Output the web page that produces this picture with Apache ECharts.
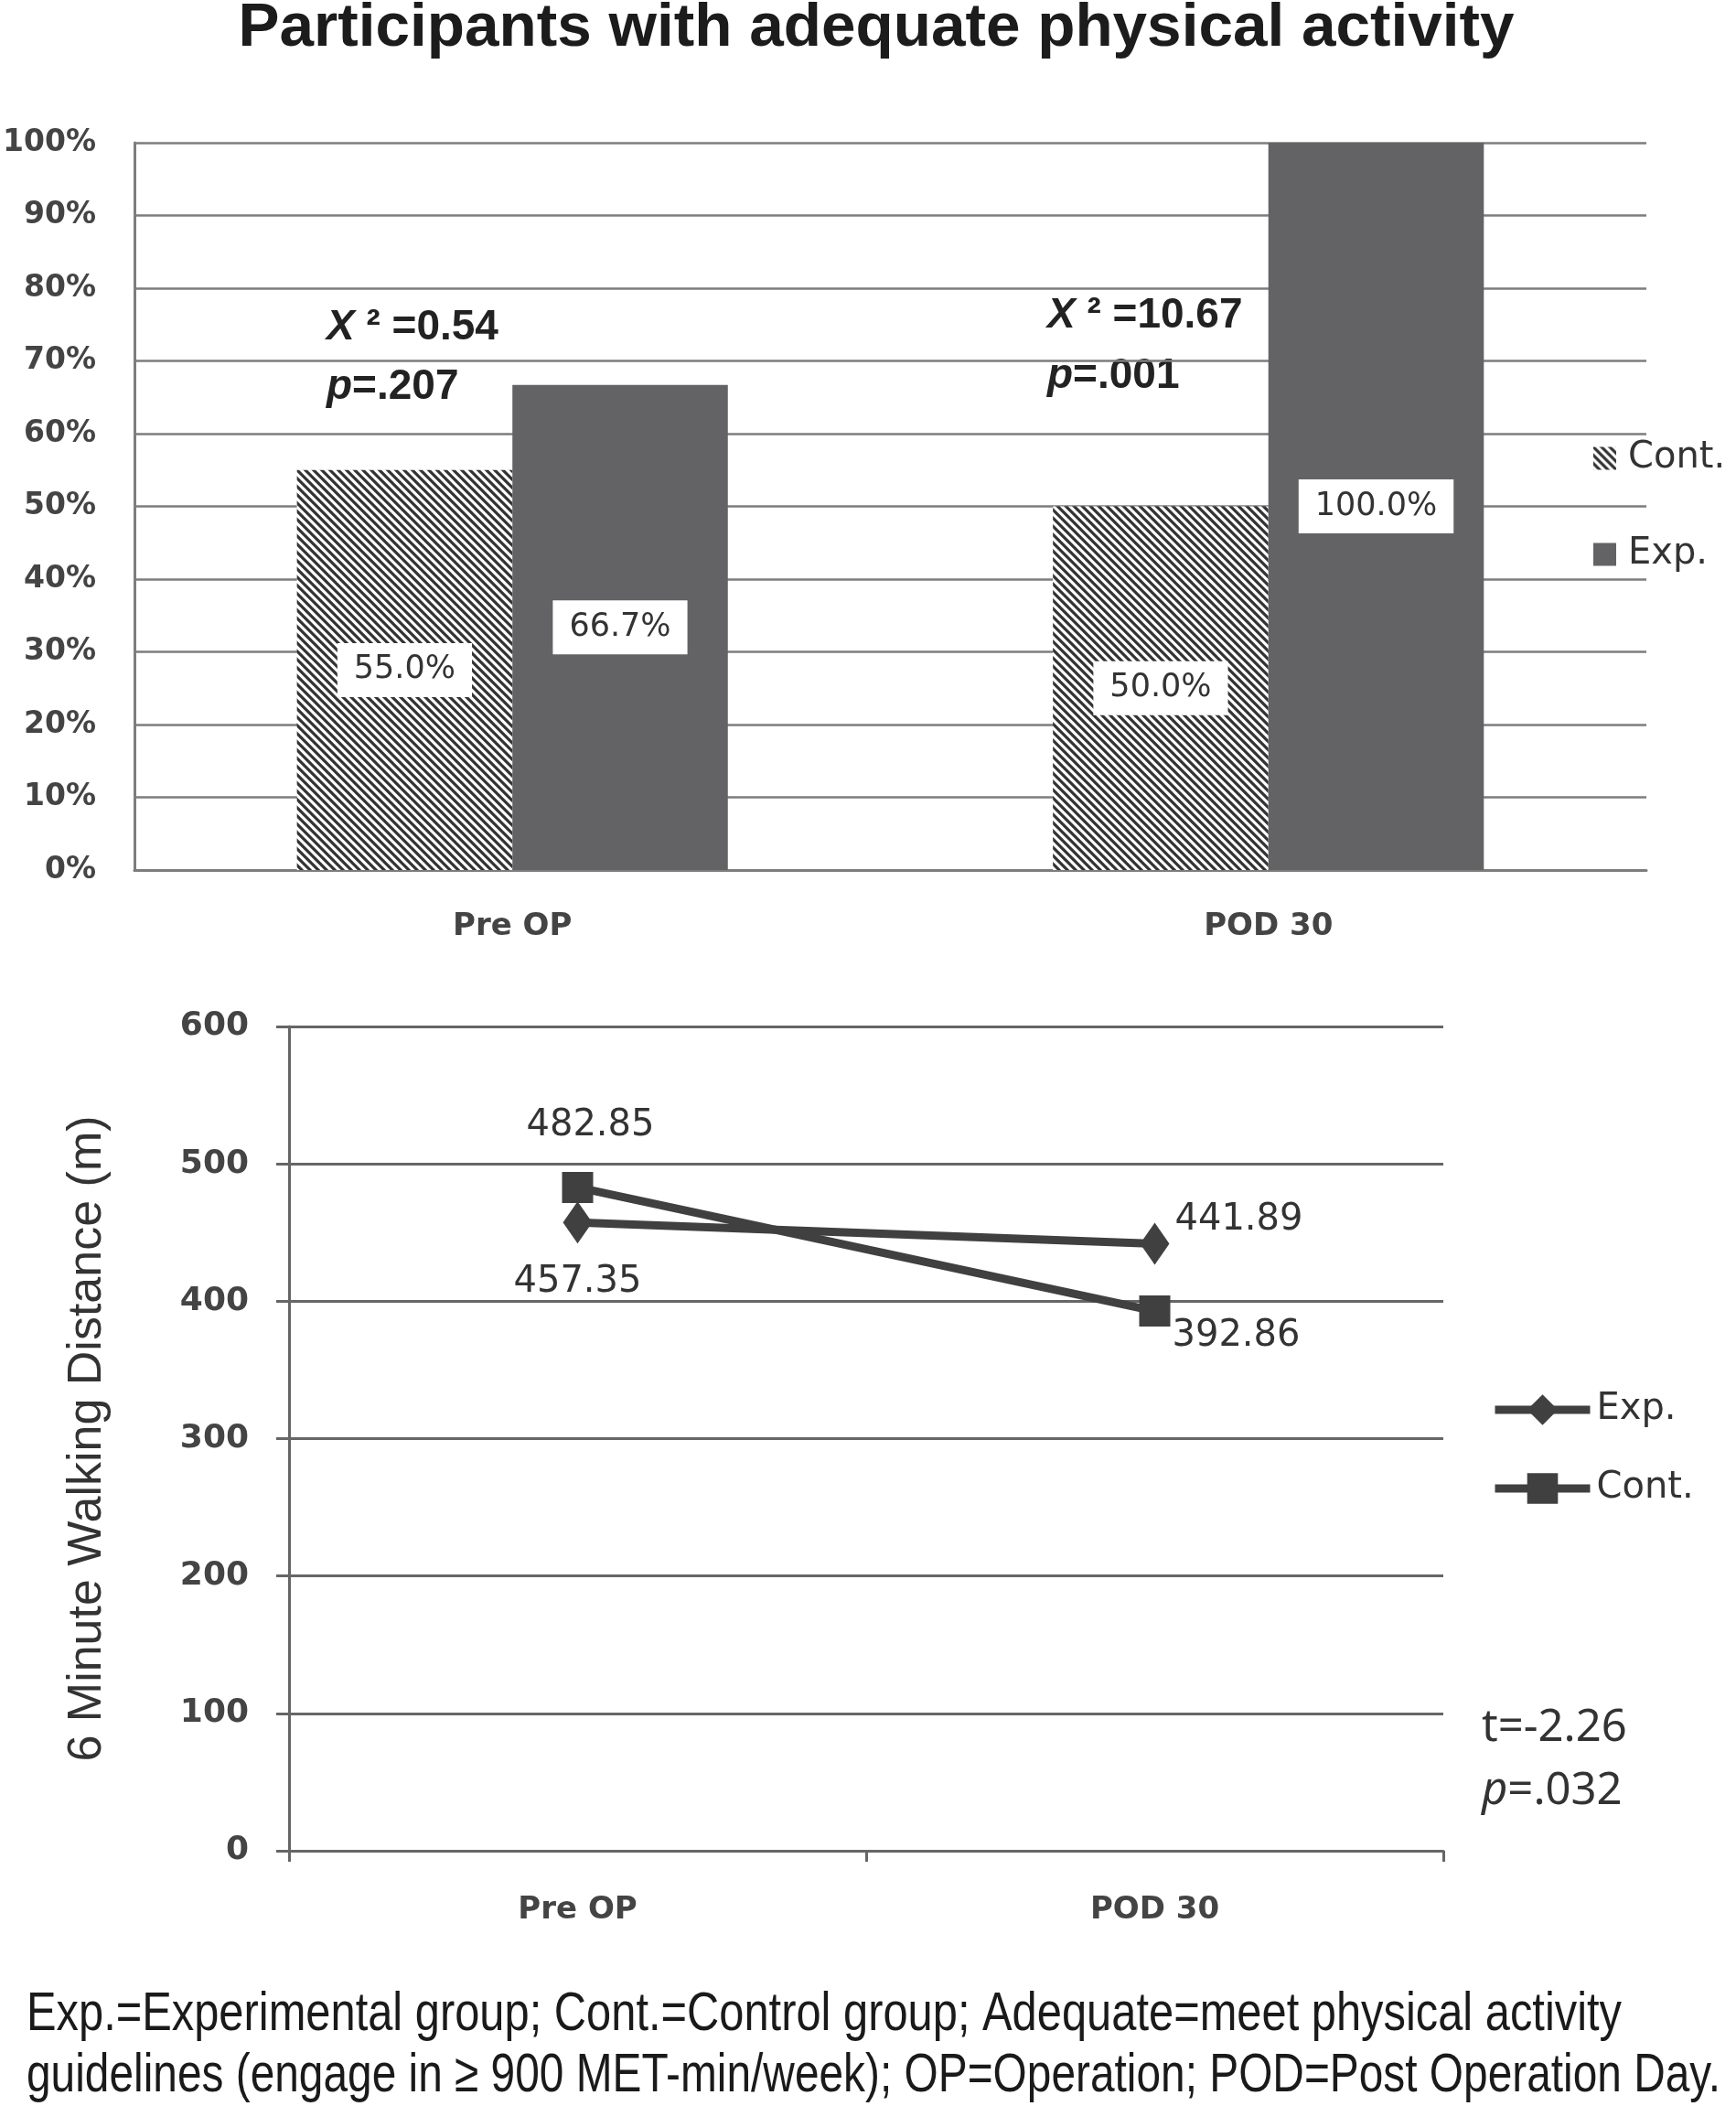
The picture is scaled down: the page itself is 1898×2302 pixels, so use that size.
<!DOCTYPE html>
<html><head><meta charset="utf-8">
<script src="https://cdn.jsdelivr.net/npm/echarts@6/dist/echarts.min.js"></script>
<style>html,body{margin:0;padding:0;background:#fff}#c{width:1898px;height:2302px}</style>
</head><body><div id="c"></div>
<script>
// ---- data ----
const categories = ['Pre OP', 'POD 30'];
const contPct = [55.0, 50.0];
const expPct = [66.7, 100.0];
const expDist = [457.35, 441.89];
const contDist = [482.85, 392.86];
const chiValues = ['0.54', '10.67'];
const chiP = ['.207', '.001'];
const tValue = '-2.26';
const tP = '.032';
const titleText = 'Participants with adequate physical activity';
const yNameText = '6 Minute Walking Distance (m)';
const footLines = [
  'Exp.=Experimental group; Cont.=Control group; Adequate=meet physical activity',
  'guidelines (engage in \u2265 900 MET-min/week); OP=Operation; POD=Post Operation Day.'
];

// ---- helpers ----
function hatchPattern() {
  const s = 9, c = document.createElement('canvas');
  c.width = s; c.height = s;
  const g = c.getContext('2d');
  g.fillStyle = '#fff'; g.fillRect(0, 0, s, s);
  g.strokeStyle = '#333'; g.lineWidth = 3.2;
  g.beginPath();
  for (const k of [-1, 0, 1]) { g.moveTo(-s, -s + k * s); g.lineTo(2 * s, 2 * s + k * s); }
  g.stroke();
  return { image: c, repeat: 'repeat' };
}
function textWidth(font, t) {
  const c = document.createElement('canvas').getContext('2d');
  c.font = font; return c.measureText(t).width;
}
const F = 'DejaVu Sans';
const hatch = hatchPattern();
const titleFont = 'bold 66px "Liberation Sans"';
const titleScale = 1395 / textWidth(titleFont, titleText);
const footFont = '60px "Liberation Sans"';
const footWidths = [1744, 1852];
const footScales = footLines.map((t, i) => footWidths[i] / textWidth(footFont, t));

const chiRich = {
  i: { fontFamily: 'Liberation Sans', fontWeight: 'bold', fontStyle: 'italic', fontSize: 46, fill: '#222' },
  b: { fontFamily: 'Liberation Sans', fontWeight: 'bold', fontSize: 46, fill: '#222' }
};
const tRich = {
  i: { fontFamily: 'Noto Sans', fontStyle: 'italic', fontSize: 49, fill: '#333' },
  n: { fontFamily: 'Noto Sans', fontSize: 49, fill: '#333' }
};
const chiPos = [[357, 358, 423], [1145, 345, 411]];

const graphic = [
  { type: 'text', x: 958, y: 32, scaleX: titleScale,
    style: { text: titleText, font: titleFont, fill: '#1c1c1c', align: 'center', verticalAlign: 'middle' } }
];
chiValues.forEach((v, i) => {
  const [x, y1, y2] = chiPos[i];
  graphic.push({ type: 'text', x: x, y: y1, style: { text: '{i|X}{b| \u00b2 =' + v + '}', rich: chiRich, verticalAlign: 'middle' } });
  graphic.push({ type: 'text', x: x, y: y2, style: { text: '{i|p}{b|=' + chiP[i] + '}', rich: chiRich, verticalAlign: 'middle' } });
});
graphic.push({ type: 'text', x: 1620, y: 1889, style: { text: '{n|t=' + tValue + '}', rich: tRich, verticalAlign: 'middle' } });
graphic.push({ type: 'text', x: 1620, y: 1958, style: { text: '{i|p}{n|=' + tP + '}', rich: tRich, verticalAlign: 'middle' } });
footLines.forEach((t, i) => {
  graphic.push({ type: 'text', x: 29, y: 2202 + i * 67, scaleX: footScales[i],
    style: { text: t, font: footFont, fill: '#1a1a1a', verticalAlign: 'middle' } });
});

const expLabelCfg = [
  { position: 'bottom', distance: 22 },
  { position: 'right', distance: 6, offset: [0, -26] }
];
const contLabelCfg = [
  { position: 'top', distance: 30, offset: [14, 0] },
  { position: 'right', distance: 2, offset: [0, 28] }
];

const gridColor = '#7d7d7d';
const lineColor = '#404040';
const barLabel = {
  show: true, position: 'inside', formatter: p => p.value.toFixed(1) + '%',
  backgroundColor: '#fff', padding: [12, 18], fontFamily: F, fontSize: 35, color: '#333',
  textBorderWidth: 0
};
const lineLabel = { show: true, fontFamily: F, fontSize: 40, color: '#333', formatter: p => p.value.toFixed(2) };

const option = {
  animation: false,
  backgroundColor: '#fff',
  legend: [
    { data: ['Cont.|pa', 'Exp.|pa'], orient: 'vertical', left: 1737, top: 476,
      itemWidth: 25, itemHeight: 25, itemGap: 65, icon: 'rect',
      formatter: n => n.split('|')[0],
      textStyle: { fontFamily: F, fontSize: 40, color: '#333', padding: [0, 0, 0, 8] } },
    { data: ['Exp.|wd', 'Cont.|wd'], orient: 'vertical', left: 1625, top: 1516,
      itemWidth: 104, itemHeight: 42, itemGap: 46,
      lineStyle: { width: 9 },
      formatter: n => n.split('|')[0],
      textStyle: { fontFamily: F, fontSize: 40, color: '#333', padding: [0, 0, 0, 2] } }
  ],
  grid: [
    { left: 142, top: 156, width: 1658, height: 795 },
    { left: 316, top: 1122, width: 1262, height: 901 }
  ],
  xAxis: [
    { type: 'category', gridIndex: 0, data: categories,
      axisLine: { show: true, lineStyle: { color: gridColor, width: 3 } },
      axisTick: { show: false },
      axisLabel: { fontFamily: F, fontWeight: 'bold', fontSize: 34, color: '#444', margin: 45 } },
    { type: 'category', gridIndex: 1, data: categories,
      axisLine: { show: true, lineStyle: { color: '#666', width: 3 } },
      axisTick: { show: true, length: 12, lineStyle: { color: '#666', width: 3 } },
      axisLabel: { fontFamily: F, fontWeight: 'bold', fontSize: 34, color: '#444', margin: 48 } }
  ],
  yAxis: [
    { type: 'value', gridIndex: 0, min: 0, max: 100, interval: 10,
      axisLine: { show: true, lineStyle: { color: gridColor, width: 3 } },
      axisTick: { show: false },
      splitLine: { lineStyle: { color: gridColor, width: 2.5 } },
      axisLabel: { formatter: '{value}%', fontFamily: F, fontWeight: 'bold', fontSize: 33, color: '#444', margin: 42 } },
    { type: 'value', gridIndex: 1, min: 0, max: 600, interval: 100,
      name: yNameText, nameLocation: 'middle', nameGap: 194,
      nameTextStyle: { fontFamily: 'Liberation Sans', fontSize: 52, color: '#333' },
      axisLine: { show: true, lineStyle: { color: '#666', width: 3 } },
      axisTick: { show: true, length: 14, lineStyle: { color: '#666', width: 3 } },
      splitLine: { lineStyle: { color: '#666', width: 3 } },
      axisLabel: { fontFamily: F, fontWeight: 'bold', fontSize: 36, color: '#444', margin: 44 } }
  ],
  series: [
    { name: 'Cont.|pa', type: 'bar', xAxisIndex: 0, yAxisIndex: 0, data: contPct,
      barGap: '0%', barCategoryGap: '43%', itemStyle: { color: hatch }, label: barLabel },
    { name: 'Exp.|pa', type: 'bar', xAxisIndex: 0, yAxisIndex: 0, data: expPct,
      barGap: '0%', barCategoryGap: '43%', itemStyle: { color: '#636366' }, label: barLabel },
    { name: 'Exp.|wd', type: 'line', xAxisIndex: 1, yAxisIndex: 1,
      data: expDist.map((v, i) => ({ value: v, label: expLabelCfg[i] })),
      symbol: 'diamond', symbolSize: [32, 46],
      lineStyle: { width: 9, color: lineColor }, itemStyle: { color: lineColor }, label: lineLabel },
    { name: 'Cont.|wd', type: 'line', xAxisIndex: 1, yAxisIndex: 1,
      data: contDist.map((v, i) => ({ value: v, label: contLabelCfg[i] })),
      symbol: 'rect', symbolSize: 34,
      lineStyle: { width: 9, color: lineColor }, itemStyle: { color: lineColor }, label: lineLabel }
  ],
  graphic: graphic
};
const chart = echarts.init(document.getElementById('c'));
chart.setOption(option);
</script>
</body></html>
